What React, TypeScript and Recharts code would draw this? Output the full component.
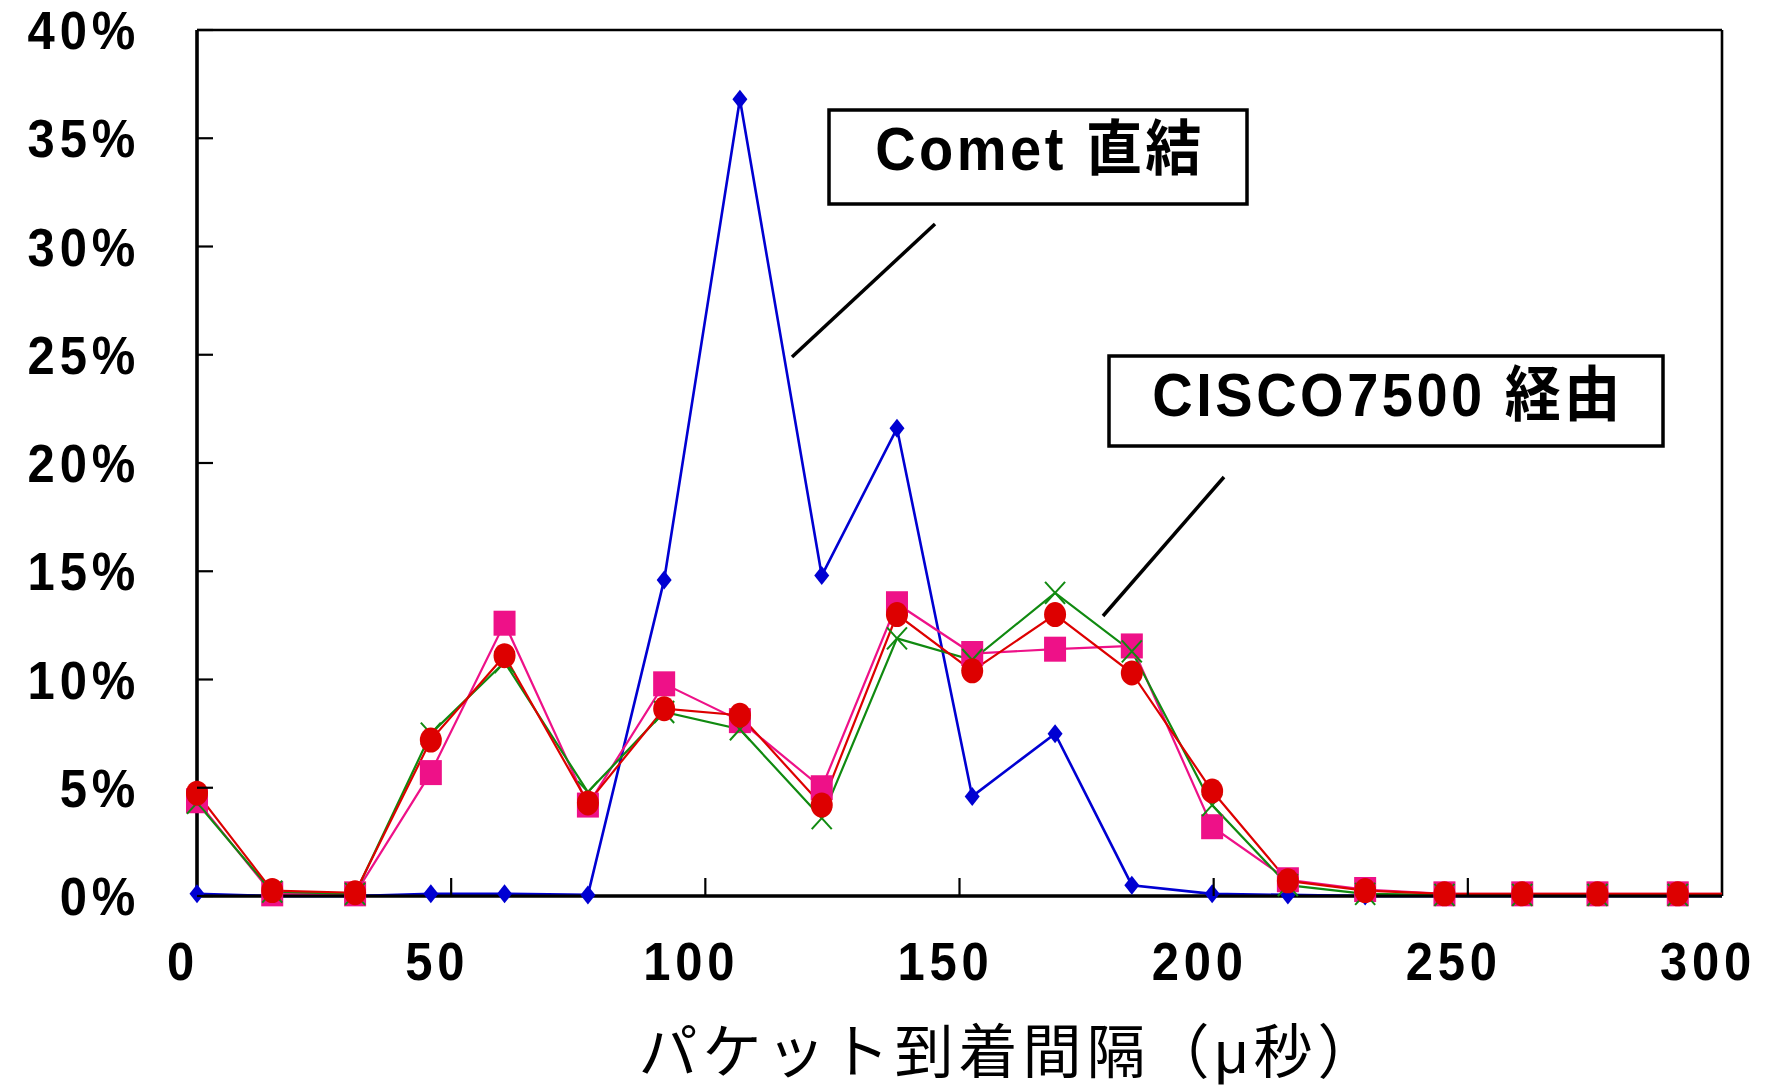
import React from "react";
import { LineChart, Line, XAxis, YAxis, ReferenceLine } from "recharts";

// packet inter-arrival time (µs); the last point lies past the axis end
const X_US = [
  0, 14.8, 31.1, 46.0, 60.5, 76.9, 91.9, 106.8, 122.9, 137.7, 152.5, 168.8,
  183.9, 199.7, 214.6, 229.8, 245.4, 260.7, 275.5, 291.3, 307,
];

// percent of packets
const COMET = [
  0.1, 0, 0, 0.1, 0.1, 0.05, 14.6, 36.8, 14.8, 21.6, 4.6, 7.5, 0.5, 0.1, 0.05,
  0, 0, 0, 0, 0, 0,
];
const CISCO_SQ = [
  4.4, 0.1, 0.1, 5.7, 12.6, 4.2, 9.8, 8.1, 5.0, 13.5, 11.2, 11.4, 11.55, 3.2,
  0.75, 0.3, 0.1, 0.1, 0.1, 0.1, 0.1,
];
const CISCO_X = [
  4.3, 0.2, 0.1, 7.5, 10.8, 4.8, 8.5, 7.7, 3.6, 11.9, 10.9, 14.0, 11.3, 4.2,
  0.5, 0.1, 0.05, 0.05, 0.05, 0.05, 0.05,
];
const CISCO_CI = [
  4.75, 0.25, 0.15, 7.2, 11.1, 4.3, 8.65, 8.35, 4.2, 13.0, 10.4, 13.0, 10.3,
  4.85, 0.7, 0.25, 0.1, 0.1, 0.1, 0.1, 0.1,
];

const X_TICKS = [0, 50, 100, 150, 200, 250, 300];
const Y_TICKS = [0, 5, 10, 15, 20, 25, 30, 35, 40];

const rows = X_US.map((x, i) => ({
  x,
  comet: COMET[i],
  sq: CISCO_SQ[i],
  cr: CISCO_X[i],
  ci: CISCO_CI[i],
}));
const markerRows = rows.filter((r) => r.x <= 300);

const W = 1767;
const H = 1087;
const PLOT_LEFT = 197;
const PLOT_BOTTOM = 896;
const FONT = '"Liberation Sans", Arial, "Noto Sans CJK JP", sans-serif';

const BLUE = "#0000d2";
const PINK = "#ee1188";
const GREEN = "#108a10";
const RED = "#dd0000";

const AXIS_LINE = { stroke: "#000", strokeWidth: 3 };

// tall, slightly condensed bold label like the original
const Label = ({ x, y, anchor, children }: any) => (
  <text
    transform={`translate(${x},${y}) scale(0.96,1.05)`}
    textAnchor={anchor}
    fontFamily={FONT}
    fontWeight="bold"
    fontSize={51}
    letterSpacing={5}
    fill="#000"
  >
    {children}
  </text>
);

const XTick = (p: any) => {
  const x = p.x;
  return (
    <g>
      {p.payload.value !== 0 && p.payload.value !== 300 && (
        <line x1={x} x2={x} y1={PLOT_BOTTOM} y2={PLOT_BOTTOM - 18} stroke="#000" strokeWidth={2.2} />
      )}
      <Label x={x - 14} y={980} anchor="middle">
        {p.payload.value}
      </Label>
    </g>
  );
};

const YTick = (p: any) => {
  const y = p.y;
  return (
    <g>
      <line x1={PLOT_LEFT} x2={PLOT_LEFT + 16} y1={y} y2={y} stroke="#000" strokeWidth={2.2} />
      <Label x={140} y={y + 19} anchor="end">
        {p.payload.value}%
      </Label>
    </g>
  );
};

const Diamond = (p: any) => {
  if (p.cx == null || p.cy == null) return <g key={p.index} />;
  const { cx, cy } = p;
  return (
    <polygon
      key={p.index}
      points={`${cx},${cy - 9.5} ${cx + 7.5},${cy} ${cx},${cy + 9.5} ${cx - 7.5},${cy}`}
      fill={BLUE}
    />
  );
};

const Square = (p: any) => {
  if (p.cx == null || p.cy == null) return <g key={p.index} />;
  return <rect key={p.index} x={p.cx - 11} y={p.cy - 12.5} width={22} height={25} fill={PINK} />;
};

const Cross = (p: any) => {
  if (p.cx == null || p.cy == null) return <g key={p.index} />;
  const { cx, cy } = p;
  return (
    <g key={p.index} stroke={GREEN} strokeWidth={2}>
      <line x1={cx - 10} y1={cy - 11} x2={cx + 10} y2={cy + 11} />
      <line x1={cx - 10} y1={cy + 11} x2={cx + 10} y2={cy - 11} />
    </g>
  );
};

const Circle = (p: any) => {
  if (p.cx == null || p.cy == null) return <g key={p.index} />;
  return <ellipse key={p.index} cx={p.cx} cy={p.cy} rx={11} ry={12.5} fill={RED} />;
};

const series = [
  { key: "comet", color: BLUE, width: 2.6, dot: Diamond },
  { key: "sq", color: PINK, width: 2.2, dot: Square },
  { key: "cr", color: GREEN, width: 2.2, dot: Cross },
  { key: "ci", color: RED, width: 2.2, dot: Circle },
];

export default function App() {
  return (
    <div style={{ position: "absolute", left: 0, top: 0, width: W, height: H, background: "#fff" }}>
      <LineChart width={W} height={H} margin={{ top: 30, right: 45, bottom: 0, left: 0 }}>
        <XAxis
          dataKey="x"
          type="number"
          domain={[0, 300]}
          allowDataOverflow
          ticks={X_TICKS}
          tick={XTick}
          tickLine={false}
          height={191}
          axisLine={AXIS_LINE}
        />
        <XAxis
          xAxisId="top"
          dataKey="x"
          type="number"
          domain={[0, 300]}
          orientation="top"
          height={0}
          tick={false}
          tickLine={false}
          axisLine={AXIS_LINE}
        />
        <YAxis
          type="number"
          domain={[0, 40]}
          ticks={Y_TICKS}
          tick={YTick}
          tickLine={false}
          width={PLOT_LEFT}
          axisLine={AXIS_LINE}
        />
        <YAxis
          yAxisId="right"
          orientation="right"
          type="number"
          domain={[0, 40]}
          width={0}
          tick={false}
          tickLine={false}
          axisLine={AXIS_LINE}
        />
        {/* heavier plot frame */}
        <ReferenceLine x={0} stroke="#000" strokeWidth={3.2} />
        <ReferenceLine x={300} stroke="#000" strokeWidth={2.6} />
        <ReferenceLine y={0} stroke="#000" strokeWidth={3.2} />
        <ReferenceLine y={40} stroke="#000" strokeWidth={2.6} />
        {series.map((s) => [
          <Line
            key={s.key + "-line"}
            data={rows}
            dataKey={s.key}
            type="linear"
            stroke={s.color}
            strokeWidth={s.width}
            dot={false}
            activeDot={false}
            isAnimationActive={false}
          />,
          <Line
            key={s.key + "-dots"}
            data={markerRows}
            xAxisId="top"
            dataKey={s.key}
            type="linear"
            stroke="none"
            dot={s.dot}
            activeDot={false}
            isAnimationActive={false}
          />,
        ])}
      </LineChart>
      <svg
        width={W}
        height={H}
        style={{ position: "absolute", left: 0, top: 0, pointerEvents: "none" }}
      >
        <rect x={829} y={110} width={418} height={94} fill="#fff" stroke="#000" strokeWidth={3.5} />
        <text
          transform="translate(1040,170) scale(1,1.08)"
          textAnchor="middle"
          fontFamily={FONT}
          fontWeight="bold"
          fontSize={56}
          letterSpacing={3.5}
          fill="#000"
        >
          Comet 直結
        </text>
        <line x1={935} y1={224} x2={792} y2={357} stroke="#000" strokeWidth={3.5} />

        <rect x={1109} y={356} width={554} height={90} fill="#fff" stroke="#000" strokeWidth={3.5} />
        <text
          transform="translate(1388,416) scale(1,1.08)"
          textAnchor="middle"
          fontFamily={FONT}
          fontWeight="bold"
          fontSize={56}
          letterSpacing={3.5}
          fill="#000"
        >
          CISCO7500 経由
        </text>
        <line x1={1224} y1={477} x2={1103} y2={616} stroke="#000" strokeWidth={3.5} />

        <text
          x={1010}
          y={1073}
          textAnchor="middle"
          fontFamily={FONT}
          fontSize={59}
          letterSpacing={5}
          fill="#000"
        >
          パケット到着間隔（μ秒）
        </text>
      </svg>
    </div>
  );
}
